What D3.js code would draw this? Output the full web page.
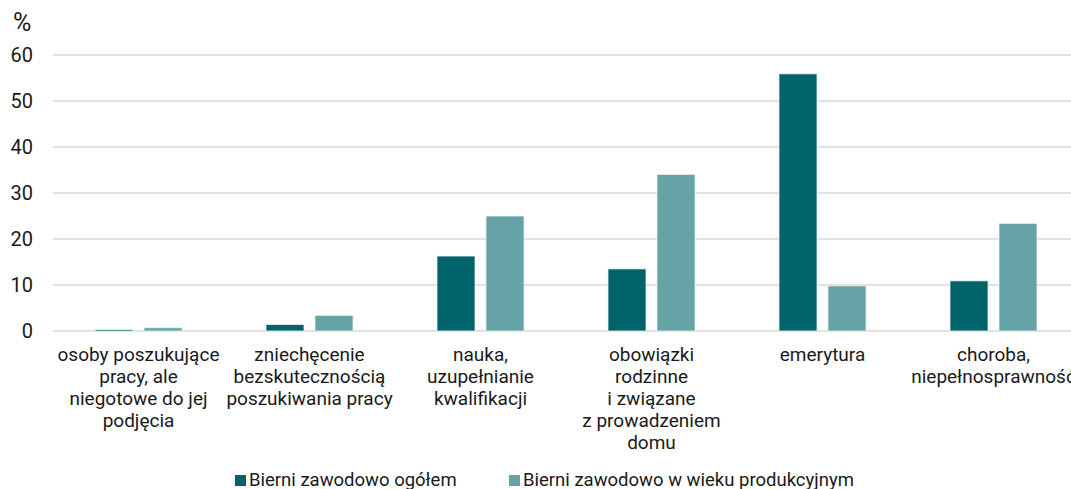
<!DOCTYPE html>
<html>
<head>
<meta charset="utf-8">
<script src="https://cdn.jsdelivr.net/npm/d3@7"></script>
<style>
  body { margin: 0; background: #fff; }
  svg { display: block; font-family: Roboto, "Noto Sans", sans-serif; }
</style>
</head>
<body>
<div id="chart"></div>
<script>
// dane
const categories = ["osoby", "zniechecenie", "nauka", "obowiazki", "emerytura", "choroba"];
const categoryLabels = [
  ["osoby poszukujące", "pracy, ale", "niegotowe do jej", "podjęcia"],
  ["zniechęcenie", "bezskutecznością", "poszukiwania pracy"],
  ["nauka,", "uzupełnianie", "kwalifikacji"],
  ["obowiązki", "rodzinne", "i związane", "z prowadzeniem", "domu"],
  ["emerytura"],
  ["choroba,", "niepełnosprawność"]
];
const seriesNames = ["Bierni zawodowo ogółem", "Bierni zawodowo w wieku produkcyjnym"];
const ogolem = [0.3, 1.4, 16.3, 13.5, 55.9, 10.9];
const produkcyjny = [0.7, 3.4, 25.0, 34.0, 9.8, 23.4];
const yTicks = [0, 10, 20, 30, 40, 50, 60];

const width = 1071, height = 489;
const margin = {top: 55, right: -8, bottom: 158, left: 53};
const colors = ["#00636a", "#66a3a6"];

const svg = d3.select("#chart").append("svg")
  .attr("width", width)
  .attr("height", height);

const x = d3.scaleBand()
  .domain(categories)
  .range([margin.left, width - margin.right]);

// słupki w grupie: szer. ok. 38 px, odstęp 11 px
const xSub = d3.scaleBand()
  .domain([0, 1])
  .range([0, x.bandwidth()])
  .paddingInner(0.224)
  .paddingOuter(0.857);

const y = d3.scaleLinear()
  .domain([0, 60])
  .range([height - margin.bottom, margin.top]);

// siatka
svg.append("g")
  .selectAll("line")
  .data(yTicks)
  .join("line")
  .attr("x1", margin.left)
  .attr("x2", width - margin.right)
  .attr("y1", d => y(d))
  .attr("y2", d => y(d))
  .attr("stroke", "#d9d9d9")
  .attr("stroke-width", 1.5);

// oś Y
const yAxis = svg.append("g")
  .attr("transform", `translate(${margin.left - 20},0)`)
  .call(d3.axisLeft(y).tickValues(yTicks).tickSize(0).tickPadding(0));
yAxis.select(".domain").remove();
yAxis.selectAll("text")
  .attr("font-size", 20)
  .attr("font-family", "Roboto, sans-serif")
  .attr("fill", "#1a1a1a");

svg.append("text")
  .attr("x", 13)
  .attr("y", 31)
  .attr("font-size", 25)
  .attr("fill", "#1a1a1a")
  .text("%");

// słupki
const series = [ogolem, produkcyjny];
series.forEach((vals, s) => {
  svg.append("g")
    .selectAll("rect")
    .data(vals)
    .join("rect")
    .attr("x", (d, i) => x(categories[i]) + xSub(s))
    .attr("width", xSub.bandwidth())
    .attr("y", d => y(d))
    .attr("height", d => y(0) - y(d))
    .attr("fill", colors[s])
    .attr("stroke", "#e8f0f0")
    .attr("stroke-width", 0.8);
});

// etykiety kategorii
const labels = svg.append("g")
  .selectAll("text")
  .data(categories)
  .join("text")
  .attr("text-anchor", "middle")
  .attr("font-size", 19)
  .attr("fill", "#1a1a1a")
  .attr("transform", d => `translate(${x(d) + x.bandwidth() / 2},${y(0) + 30})`);

labels.each(function(d, i) {
  d3.select(this).selectAll("tspan")
    .data(categoryLabels[i])
    .join("tspan")
    .attr("x", 0)
    .attr("y", (t, j) => j * 22)
    .text(t => t);
});

// legenda
const legendX = [235, 509];
const legend = svg.append("g")
  .selectAll("g")
  .data(seriesNames)
  .join("g")
  .attr("transform", (d, i) => `translate(${legendX[i]},475)`);

legend.append("rect")
  .attr("width", 11)
  .attr("height", 11)
  .attr("fill", (d, i) => colors[i]);

legend.append("text")
  .attr("x", 14)
  .attr("y", 10.5)
  .attr("font-size", 18.5)
  .attr("fill", "#1a1a1a")
  .text(d => d);
</script>
</body>
</html>
